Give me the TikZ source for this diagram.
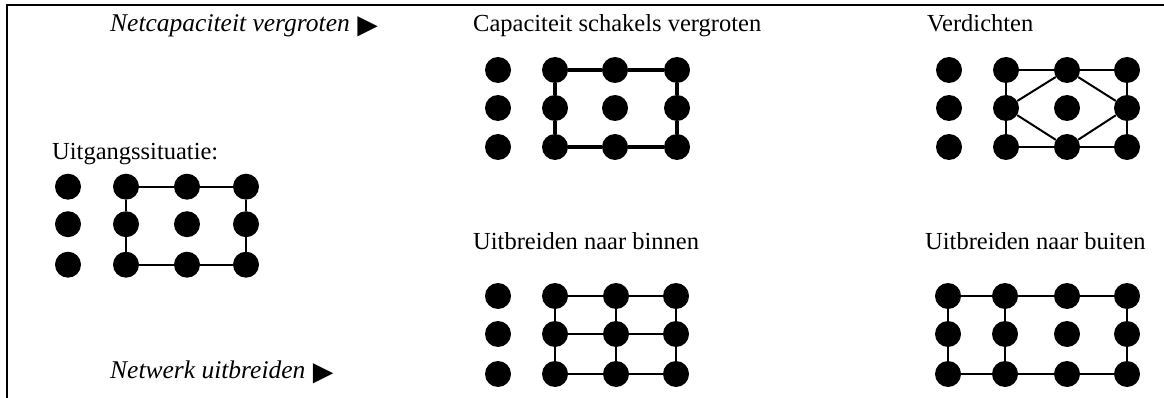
\documentclass[tikz,border=0pt]{standalone}
\usepackage{fontspec}
\setmainfont{Liberation Serif}
% enlarged pointer glyph, resting on the baseline
\newcommand\bigpointer{\hspace{1pt}\raisebox{-5.5pt}{\fontsize{34}{34}\selectfont\upshape ►}}
\begin{document}
\begin{tikzpicture}[x=1pt,y=-1pt,
  dot/.style={circle,fill=black,inner sep=0pt,minimum size=26pt},
  link/.style={line width=2pt},
  heavylink/.style={line width=4pt},
  label/.style={anchor=base west,inner sep=0pt,font=\fontsize{24.5}{28}\selectfont},
  note/.style={label,font=\fontsize{25.5}{28}\selectfont\itshape}]
\useasboundingbox (0,0) rectangle (1164,398);

% frame along the top and left edges
\draw[line width=2pt] (7,398) -- (7,5.5) -- (1164,5.5);

% captions
\node[note]  (t0) at (110,31.5) {Netcapaciteit vergroten\bigpointer};
\node[note]  (t1) at (110,378)  {Netwerk uitbreiden\bigpointer};
\node[label] (t2) at (52,160)   {Uitgangssituatie:};
\node[label] (t3) at (473,32)   {Capaciteit schakels vergroten};
\node[label] (t4) at (473,249)  {Uitbreiden naar binnen};
\node[label] (t5) at (927,32)   {Verdichten};
\node[label] (t6) at (925,249)  {Uitbreiden naar buiten};

% 4 x 3 dot grids: prefix / column x / row y
\foreach \p/\xa/\xb/\xc/\xd/\ya/\yb/\yc in {
    s/68/126/187/246/186.7/224.2/264.7,
    c/498/555/615/677/70/108/147,
    b/498/555/616/676/296/334/374,
    v/949/1006/1067/1127/70/108/147,
    o/948/1005/1067/1127/296/334/374}
  \foreach \c/\x in {1/\xa,2/\xb,3/\xc,4/\xd}
    \foreach \r/\y in {1/\ya,2/\yb,3/\yc}
      \node[dot] (\p\c\r) at (\x,\y) {};

% starting situation: ring around the right 3 x 3 block
\draw[link] (s21) -- (s31) -- (s41) -- (s42) -- (s43) -- (s33) -- (s23) -- (s22) -- (s21);

% heavier links
\draw[heavylink] (c21) -- (c31) -- (c41) -- (c42) -- (c43) -- (c33) -- (c23) -- (c22) -- (c21);

% expanding inwards: full lattice
\draw[link] (b21) -- (b31) -- (b41);
\draw[link] (b22) -- (b32) -- (b42);
\draw[link] (b23) -- (b33) -- (b43);
\draw[link] (b21) -- (b22) -- (b23);
\draw[link] (b31) -- (b32) -- (b33);
\draw[link] (b41) -- (b42) -- (b43);

% densifying: ring plus diamond
\draw[link] (v21) -- (v31) -- (v41) -- (v42) -- (v43) -- (v33) -- (v23) -- (v22) -- (v21);
\draw[link] (v22) -- (v31) -- (v42) -- (v33) -- (v22);

% expanding outwards
\draw[link] (o11) -- (o21) -- (o31) -- (o41);
\draw[link] (o13) -- (o23) -- (o33) -- (o43);
\draw[link] (o11) -- (o12) -- (o13);
\draw[link] (o21) -- (o22) -- (o23);
\draw[link] (o41) -- (o42) -- (o43);
\end{tikzpicture}
\end{document}
